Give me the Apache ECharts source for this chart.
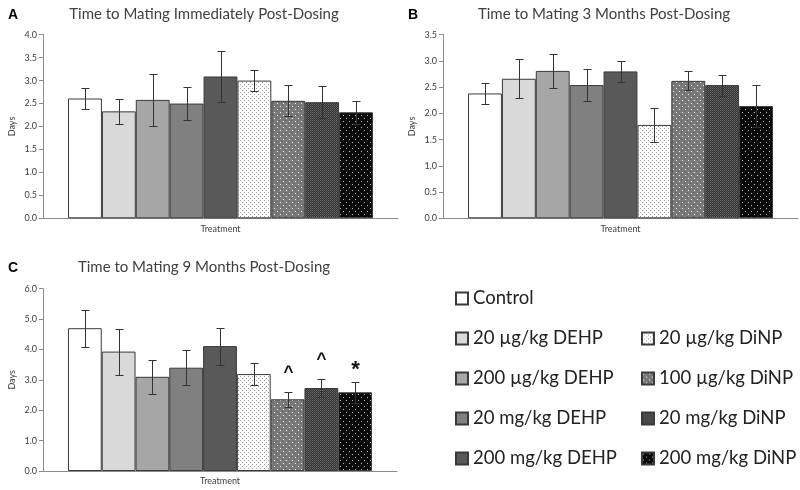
<!DOCTYPE html>
<html>
<head>
<meta charset="utf-8">
<script src="https://cdn.jsdelivr.net/npm/echarts@6/dist/echarts.min.js"></script>
<style>
html,body{margin:0;padding:0;background:#fff;}
#chart{width:800px;height:490px;}
</style>
</head>
<body>
<div id="chart"></div>
<script>
const categories = ['Treatment'];
const groups = ['Control','20 µg/kg DEHP','200 µg/kg DEHP','20 mg/kg DEHP','200 mg/kg DEHP','20 µg/kg DiNP','100 µg/kg DiNP','20 mg/kg DiNP','200 mg/kg DiNP'];
const meanA = [2.61,2.33,2.58,2.50,3.09,3.00,2.56,2.53,2.31];
const errA  = [0.23,0.28,0.57,0.35,0.56,0.23,0.34,0.35,0.25];
const meanB = [2.38,2.66,2.81,2.54,2.80,1.78,2.62,2.54,2.14];
const errB  = [0.20,0.37,0.33,0.31,0.20,0.33,0.18,0.20,0.40];
const meanC = [4.70,3.93,3.10,3.40,4.11,3.19,2.36,2.73,2.59];
const errC  = [0.61,0.76,0.55,0.57,0.61,0.35,0.24,0.30,0.35];
const annotA = ['','','','','','','','',''];
const annotB = ['','','','','','','','',''];
const annotC = ['','','','','','','^','^','*'];
const titles = ['Time to Mating Immediately Post-Dosing','Time to Mating 3 Months Post-Dosing','Time to Mating 9 Months Post-Dosing'];
const panelLetters = ['A','B','C'];
const yMax = [4, 3.5, 6];
const yInterval = [0.5, 0.5, 1];

function pattern(size, bg, dots){
  const c = document.createElement('canvas');
  c.width = size; c.height = size;
  const g = c.getContext('2d');
  g.fillStyle = bg; g.fillRect(0,0,size,size);
  dots.forEach(d => { g.fillStyle = d[2]; g.fillRect(d[0], d[1], 1, 1); });
  return {image: c, repeat: 'repeat'};
}
const fills = [
  '#ffffff', '#d9d9d9', '#a6a6a6', '#808080', '#595959',
  pattern(4, '#ffffff', [[0,0,'#9a9a9a'],[2,2,'#9a9a9a']]),
  pattern(6, '#7a7a7a', [[1,1,'#f0f0f0'],[4,4,'#f0f0f0'],[0,3,'#5e5e5e'],[3,0,'#5e5e5e']]),
  pattern(2, '#333333', [[0,0,'#6a6a6a'],[1,1,'#555555']]),
  pattern(6, '#0a0a0a', [[1,1,'#bbbbbb'],[4,4,'#bbbbbb']])
];

const FONT = 'Lato';
const GAP = 0.141;
const grids = [
  {left:43, top:34.7, width:355, height:183.6},
  {left:443, top:34.7, width:355, height:183.6},
  {left:43, top:288.7, width:354, height:182.3}
];
const means = [meanA, meanB, meanC];
const errs = [errA, errB, errC];
const annots = [annotA, annotB, annotC];

const series = [];
const xAxes = [], yAxes = [];
grids.forEach((g, gi) => {
  xAxes.push({
    type:'category', gridIndex:gi, data:categories,
    axisLine:{lineStyle:{color:'#8c8c8c', width:1}},
    axisTick:{show:false},
    axisLabel:{color:'#404040', fontSize:9, fontFamily:FONT, margin:6}
  });
  yAxes.push({
    type:'value', gridIndex:gi, min:0, max:yMax[gi], interval:yInterval[gi],
    name:'Days', nameLocation:'middle', nameGap:26, nameRotate:90,
    nameTextStyle:{color:'#404040', fontSize:9, fontFamily:FONT},
    axisLine:{show:true, lineStyle:{color:'#8c8c8c', width:1}},
    axisTick:{show:true, length:4, lineStyle:{color:'#8c8c8c'}},
    splitLine:{show:false},
    axisLabel:{color:'#404040', fontSize:9, fontFamily:FONT, margin:6, formatter:v => v.toFixed(1)}
  });
  groups.forEach((name, i) => {
    series.push({
      type:'bar', name:name, xAxisIndex:gi, yAxisIndex:gi,
      data:[means[gi][i]],
      barGap:0, barCategoryGap:(GAP*100)+'%',
      itemStyle:{color:fills[i], borderColor:'#3a3a3a', borderWidth:1},
      emphasis:{disabled:true},
      animation:false
    });
  });
  const errData = groups.map((n, i) => [0, means[gi][i], errs[gi][i], i]);
  const ann = annots[gi];
  series.push({
    type:'custom', xAxisIndex:gi, yAxisIndex:gi, z:5, silent:true, animation:false,
    data:errData,
    renderItem:function(params, api){
      const idx = api.value(3), m = api.value(1), e = api.value(2);
      const band = api.size([1,0])[0];
      const bw = band*(1-GAP)/groups.length;
      const c = api.coord([0, m]);
      const x = Math.round(c[0] + (idx - (groups.length-1)/2)*bw) + 0.5;
      const yt = Math.round(api.coord([0, m+e])[1]) + 0.5;
      const yb = Math.round(api.coord([0, m-e])[1]) + 0.5;
      const cap = 4;
      const st = {stroke:'#333333', lineWidth:1};
      const children = [
        {type:'line', shape:{x1:x, y1:yt, x2:x, y2:yb}, style:st},
        {type:'line', shape:{x1:x-cap, y1:yt, x2:x+cap, y2:yt}, style:st},
        {type:'line', shape:{x1:x-cap, y1:yb, x2:x+cap, y2:yb}, style:st}
      ];
      const a = ann[params.dataIndex];
      if (a) {
        const star = a === '*';
        children.push({type:'text', style:{text:a, x:x, y:yt - (star ? 13 : 20), align:'center', verticalAlign:'middle',
          fill:'#111', font:(star ? 'bold 22px' : 'bold 17px') + ' Arial, "Liberation Sans"'}});
      }
      return {type:'group', children:children};
    }
  });
});

const titleList = [
  {text:titles[0], left:199, top:2, textAlign:'center'},
  {text:titles[1], left:599, top:2, textAlign:'center'},
  {text:titles[2], left:199, top:255, textAlign:'center'}
].map(t => Object.assign(t, {textStyle:{color:'#404040', fontSize:15, fontWeight:'normal', fontFamily:FONT}}));
const letterPos = [[3,3],[403,3],[3,256]];
panelLetters.forEach((l, i) => {
  titleList.push({text:l, left:letterPos[i][0], top:letterPos[i][1],
    textStyle:{color:'#000', fontSize:14, fontWeight:'bold', fontFamily:'Liberation Sans, Arial'}});
});

const legendText = {color:'#222', fontSize:18.5, fontFamily:FONT};
const option = {
  backgroundColor:'#ffffff',
  animation:false,
  title:titleList,
  grid:grids,
  xAxis:xAxes,
  yAxis:yAxes,
  legend:[
    {data:groups.slice(0,5), orient:'vertical', left:450, top:284, itemWidth:12, itemHeight:12, itemGap:21,
     icon:'rect', textStyle:legendText, selectedMode:false},
    {data:groups.slice(5), orient:'vertical', left:636, top:324, itemWidth:12, itemHeight:12, itemGap:21,
     icon:'rect', textStyle:legendText, selectedMode:false}
  ],
  series:series
};
const chart = echarts.init(document.getElementById('chart'), null, {renderer:'canvas'});
chart.setOption(option);
</script>
</body>
</html>
